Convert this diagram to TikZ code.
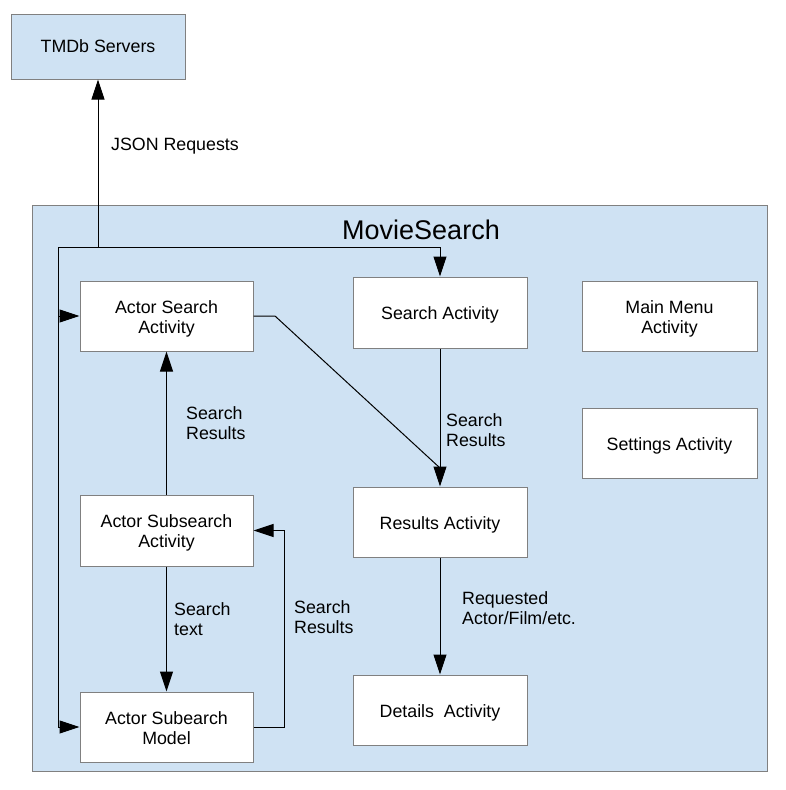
\documentclass[tikz,border=0pt]{standalone}
\usepackage{fontspec}
\setmainfont{Liberation Sans}
\usetikzlibrary{arrows.meta}
\definecolor{bluefill}{HTML}{CFE2F3}
\definecolor{edgegray}{HTML}{808080}
\newcommand{\bxt}[1]{\raisebox{-3pt}[\height][\depth]{\begin{tabular}{@{}c@{}}#1\end{tabular}}}
\begin{document}
\begin{tikzpicture}[x=1pt,y=-1pt,
  box/.style={draw=edgegray,line width=1pt,fill=white,inner sep=0pt,
    minimum width=174pt,minimum height=70pt,font=\fontsize{17.8}{20}\selectfont},
  lbl/.style={anchor=west,align=left,inner sep=0pt,font=\fontsize{17.8}{20}\selectfont},
  arr/.style={line width=1pt,-{Triangle[length=20pt,width=13pt]}},
  ln/.style={line width=1pt}]
\useasboundingbox (0,0) rectangle (786,790);
\fill[white] (0,0) rectangle (786,790);
% container
\node[draw=edgegray,line width=1pt,fill=bluefill,inner sep=0pt,minimum width=735pt,minimum height=566pt] (cont) at (399.5,488) {};
\node[inner sep=0pt,font=\fontsize{27}{30}\selectfont] (title) at (421,230) {MovieSearch};
% nodes
\node[box,fill=bluefill,minimum height=65pt] (tmdb) at (98,46.5) {TMDb Servers};
\node[box,minimum width=173pt] (actsearch) at (166.5,316) {\bxt{Actor Search\\Activity}};
\node[box,minimum height=71pt] (search) at (440,312.5) {\bxt{Search Activity}};
\node[box,minimum width=175pt] (mainmenu) at (669.5,316) {\bxt{Main Menu\\Activity}};
\node[box,minimum width=175pt] (settings) at (669.5,443) {\bxt{Settings Activity}};
\node[box] (results) at (440,522) {\bxt{Results Activity}};
\node[box,minimum width=173pt,minimum height=71pt] (subact) at (166.5,530.5) {\bxt{Actor Subsearch\\Activity}};
\node[box] (details) at (440,710) {\bxt{Details\ \ Activity}};
\node[box,minimum width=173pt] (model) at (166.5,727) {\bxt{Actor Subearch\\Model}};
% coordinates
\coordinate (j) at (98,247);
\coordinate (tl) at (58,247);
\coordinate (bend) at (275,316);
\coordinate (diagend) at (440,468);
% connectors
\draw[arr] (j) -- (tmdb.south);
\draw[arr] (tl) -| (search.north);
\draw[arr] (tl) |- (actsearch.west);
\draw[arr] (tl) |- (model.west);
\draw[ln] (actsearch.east) -- (bend) -- (diagend);
\draw[arr] (search.south) -- (results.north);
\draw[arr] (subact.north) -- (actsearch.south);
\draw[arr] (subact.south) -- (model.north);
\draw[arr] (model.east) -- ++(31,0) |- (subact.east);
\draw[arr] (results.south) -- (details.north);
% labels
\node[lbl] (l1) at (111,144) {\raisebox{-2pt}[\height][\depth]{JSON Requests}};
\node[lbl] (l2) at (186,423) {Search\\Results};
\node[lbl] (l3) at (446,430) {Search\\Results};
\node[lbl] (l4) at (174,619) {Search\\text};
\node[lbl] (l5) at (294,617) {Search\\Results};
\node[lbl] (l6) at (462,608) {Requested\\Actor/Film/etc.};
\end{tikzpicture}
\end{document}
